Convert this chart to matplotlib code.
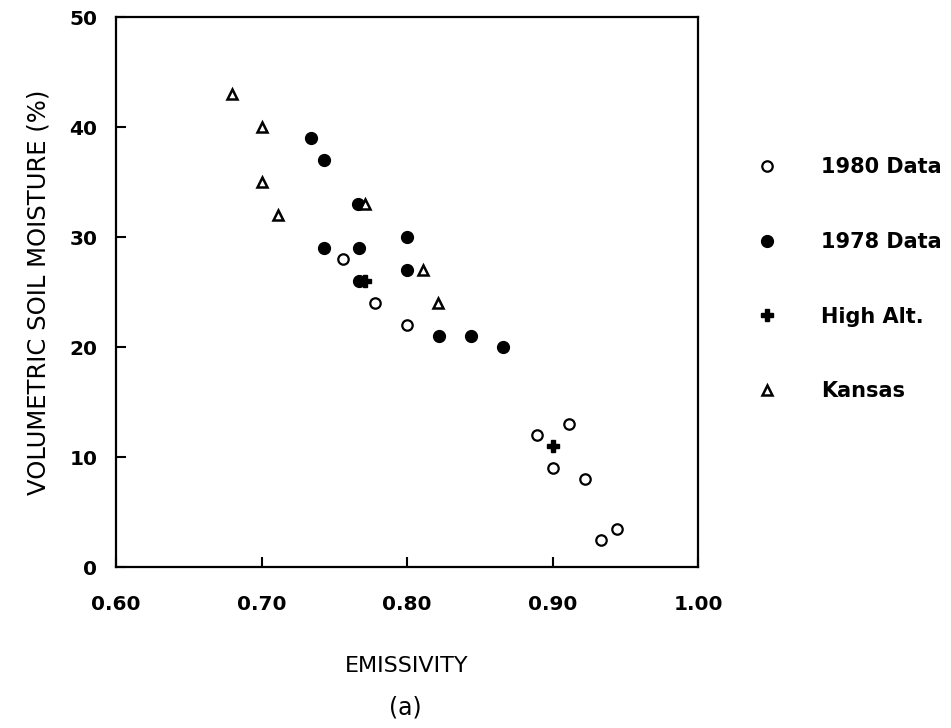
import matplotlib
matplotlib.use("Agg")
import matplotlib.pyplot as plt

# 1980 data (open circles)
x_1980 = [0.756, 0.778, 0.800, 0.889, 0.911, 0.900, 0.922, 0.933, 0.944]
y_1980 = [28, 24, 22, 12, 13, 9, 8, 2.5, 3.5]

# 1978 data (filled circles)
x_1978 = [0.734, 0.743, 0.766, 0.800, 0.743, 0.767, 0.800, 0.767, 0.822, 0.844, 0.866]
y_1978 = [39, 37, 33, 30, 29, 29, 27, 26, 21, 21, 20]

# high altitude
x_high = [0.771, 0.900]
y_high = [26, 11]

# Kansas
x_kansas = [0.680, 0.700, 0.700, 0.711, 0.771, 0.811, 0.821]
y_kansas = [43, 40, 35, 32, 33, 27, 24]

x_ticks = [0.60, 0.70, 0.80, 0.90, 1.00]
x_ticklabels = ["0.60", "0.70", "0.80", "0.90", "1.00"]
y_ticks = [0, 10, 20, 30, 40, 50]

fig = plt.figure(figsize=(9.51, 7.28), dpi=100)
ax = fig.add_axes([0.122, 0.221, 0.612, 0.7555])

ax.plot(x_1978, y_1978, "o", color="black", markersize=8.5, linestyle="none", label="1978 Data")
ax.plot(x_1980, y_1980, "o", markerfacecolor="white", markeredgecolor="black",
        markeredgewidth=1.6, markersize=7.5, linestyle="none", label="1980 Data")
ax.plot(x_kansas, y_kansas, "^", markerfacecolor="white", markeredgecolor="black",
        markeredgewidth=1.8, markersize=7.5, linestyle="none", label="Kansas")
ax.plot(x_high, y_high, "P", color="black", markersize=8, linestyle="none", label="High Alt.")

ax.set_xlim(0.60, 1.00)
ax.set_ylim(0, 50)
ax.set_xticks(x_ticks)
ax.set_xticklabels(x_ticklabels)
ax.set_yticks(y_ticks)
ax.tick_params(direction="in", length=7, width=1.5, labelsize=14.5)
ax.tick_params(axis="x", pad=20)
ax.tick_params(axis="y", pad=13.5)
for lbl in ax.get_xticklabels() + ax.get_yticklabels():
    lbl.set_fontweight("bold")
for sp in ax.spines.values():
    sp.set_linewidth(1.6)

fig.text(39 / 951, 1 - 292 / 728, "VOLUMETRIC SOIL MOISTURE (%)", fontsize=17.5,
         rotation=90, ha="center", va="center")
fig.text(407 / 951, 1 - 666 / 728, "EMISSIVITY", fontsize=16, ha="center", va="center")
fig.text(405 / 951, 1 - 707 / 728, "(a)", fontsize=17, ha="center", va="center")

# legend in the reference order
handles, labels = ax.get_legend_handles_labels()
order = ["1980 Data", "1978 Data", "High Alt.", "Kansas"]
h = [handles[labels.index(o)] for o in order]
leg = fig.legend(h, order, loc="upper left", bbox_to_anchor=(0.7645, 0.81),
                 frameon=False, labelspacing=2.63, handletextpad=1.6,
                 prop={"weight": "bold", "size": 15})

fig.savefig("out.png", dpi=100)
